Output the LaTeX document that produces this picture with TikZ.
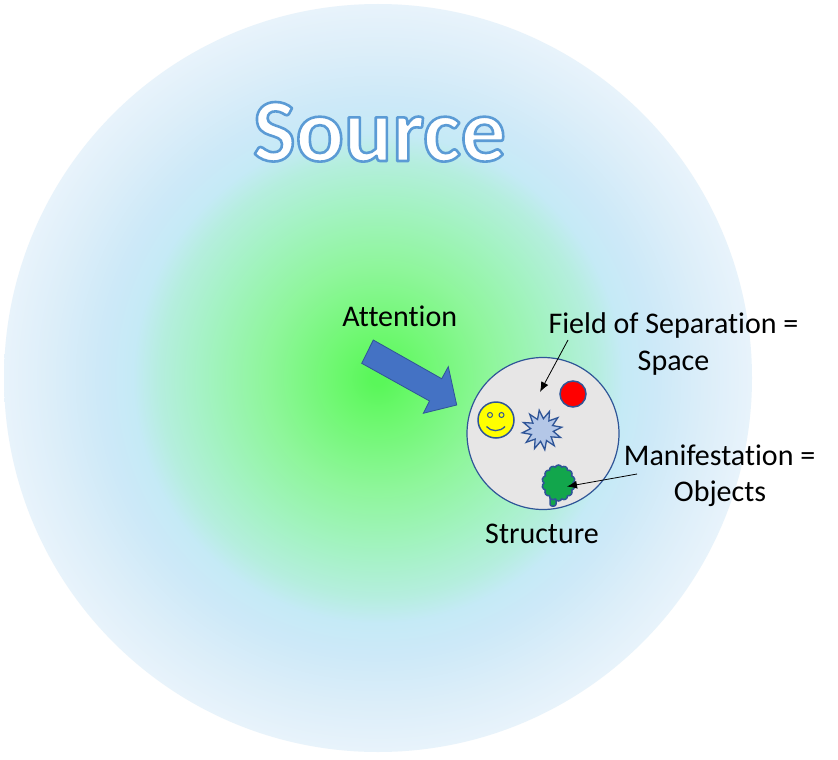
\documentclass[tikz,border=0pt]{standalone}
\usepackage{fontspec}
\setmainfont{Carlito}[Ligatures={NoCommon}]
\usetikzlibrary{shapes.geometric,shapes.symbols,arrows.meta}
\definecolor{gA}{HTML}{5AF75A}
\definecolor{gB}{HTML}{6EF870}
\definecolor{gC}{HTML}{8EF69A}
\definecolor{gD}{HTML}{A5F2C5}
\definecolor{gE}{HTML}{B5EEDE}
\definecolor{gF}{HTML}{C5EAF6}
\definecolor{gG}{HTML}{CDE9F8}
\definecolor{gH}{HTML}{DCEEF9}
\definecolor{gI}{HTML}{E8F3FB}
\definecolor{darkblue}{HTML}{2F5597}
\definecolor{arrowblue}{HTML}{4472C4}
\definecolor{srcblue}{HTML}{5B9BD5}
\definecolor{structgray}{HTML}{E7E6E6}
\definecolor{starblue}{HTML}{B4C7E7}
\definecolor{treegreen}{HTML}{12A64C}
\definecolor{smileyellow}{HTML}{FFFF00}
\pgfdeclareradialshading{srcshade}{\pgfpoint{0bp}{0bp}}{color(0bp)=(gA); color(0.5bp)=(gA); color(3bp)=(gB); color(7.4bp)=(gC); color(11.9bp)=(gD); color(14.6bp)=(gE); color(16.4bp)=(gF); color(18.6bp)=(gG); color(21.9bp)=(gH); color(25bp)=(gI); color(50bp)=(gI)}
\newcommand{\outlinedword}[1]{\special{pdf:literal direct 2 Tr 2.6 w 1 j 0.357 0.608 0.835 RG}#1\special{pdf:literal direct 0 Tr}}
\tikzset{
  lbl/.style={font=\fontsize{30}{37}\selectfont, inner sep=0pt, anchor=base, text=black},
  srcfont/.style={font=\fontsize{90}{100}\selectfont\bfseries, inner sep=0pt, anchor=base},
  obj/.style={draw=darkblue, line width=1.5pt, inner sep=0pt},
  pointer/.style={-{Latex[length=10pt,width=8pt]}, line width=0.8pt, black}
}
\begin{document}
\begin{tikzpicture}[x=1pt,y=-1pt]
\useasboundingbox (0,0) rectangle (838,760);
\fill[white] (0,0) rectangle (838,760);
\shade[shading=srcshade] (378,378) circle (374pt);

% Source title, white fill with blue outline
\node[srcfont, text=white] (source) at (379.5,161) {\outlinedword{Source}};

% Attention block arrow
\filldraw[fill=arrowblue, draw=darkblue, line width=0.8pt]
  (373.3,340) -- (441.7,378.7) -- (448.3,366.7) -- (456.7,405)
  -- (423.3,413.3) -- (429.5,401) -- (361.7,363.3) -- cycle;
\node[lbl] (attention) at (399.7,326) {Attention};

% Structure circle
\node[circle, minimum size=152pt, fill=structgray, draw=darkblue, line width=1.2pt, inner sep=0pt] (struct) at (543,433.5) {};

% objects
\node[obj, circle, minimum size=26pt, fill=red] (ball) at (573,394) {};
\node[obj, circle, minimum size=36pt, fill=smileyellow] (smiley) at (496,420) {};
\node[circle, draw=darkblue, line width=1pt, fill=smileyellow, minimum size=5pt, inner sep=0pt] (eyeL) at (490,415) {};
\node[circle, draw=darkblue, line width=1pt, fill=smileyellow, minimum size=5pt, inner sep=0pt] (eyeR) at (501.5,415) {};
\draw[darkblue, line width=1.3pt] (486.5,426.5) .. controls (491,432) and (500,432) .. (505,426.5);
\node[obj, star, star points=12, star point ratio=1.75, minimum size=40pt, fill=starblue, line width=1.3pt, rotate=8] (burst) at (542,430) {};
\node[obj, rounded corners=2pt, minimum width=6pt, minimum height=10pt, fill=treegreen] (trunk) at (553,501) {};
\node[obj, cloud, cloud puffs=14, cloud puff arc=130, aspect=1, minimum width=33pt, minimum height=36pt, fill=treegreen] (crown) at (558.5,483) {};

% labels
\node[lbl] (field) at (673.5,333) {Field of Separation =};
\node[lbl] (space) at (673.5,370) {Space};
\node[lbl] (manif) at (719.6,465) {Manifestation =};
\node[lbl] (objects) at (720,501) {Objects};
\node[lbl] (structure) at (542,543) {Structure};

% pointers
\coordinate (fs) at (568,340);
\coordinate (fe) at (540,392);
\coordinate (ms) at (637,474);
\coordinate (me) at (567,486.5);
\draw[pointer] (fs) -- (fe);
\draw[pointer] (ms) -- (me);
\end{tikzpicture}
\end{document}
